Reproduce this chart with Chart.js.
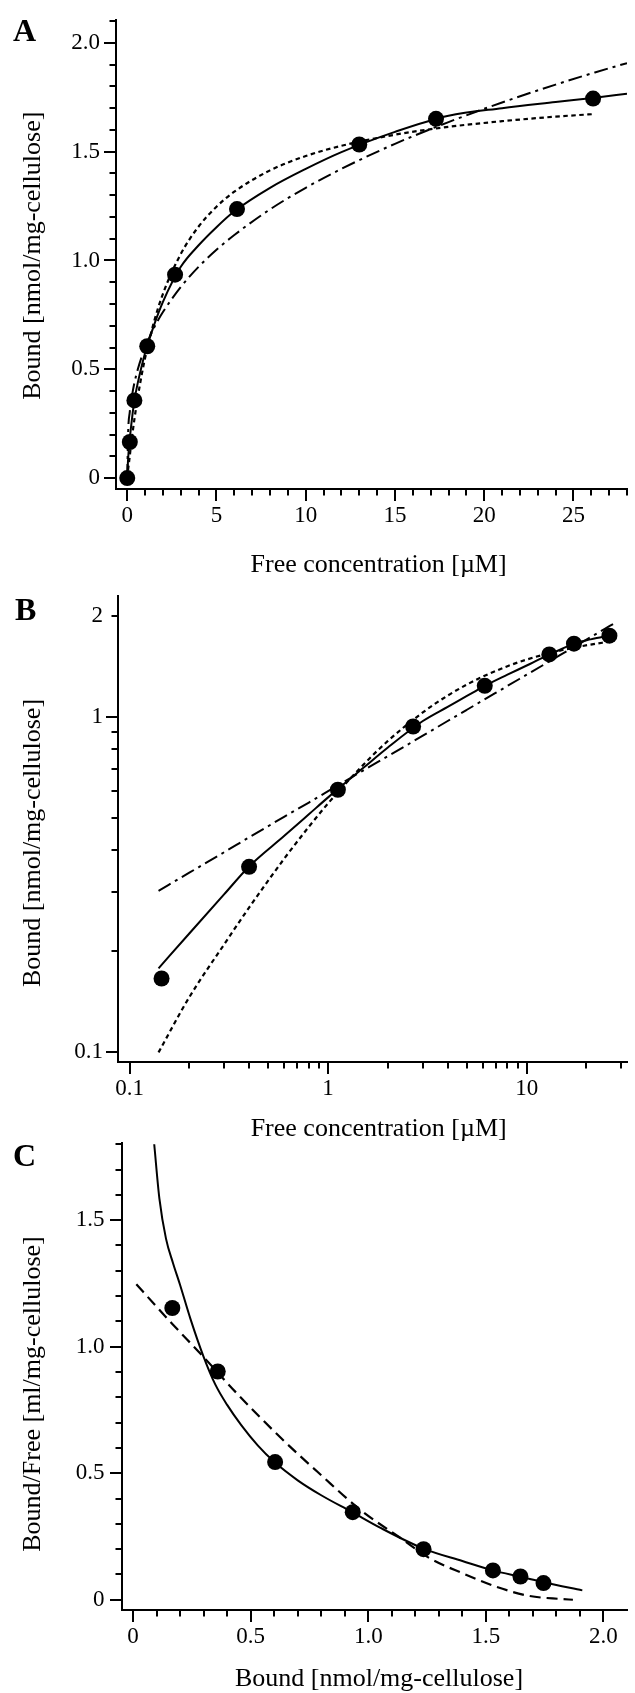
<!DOCTYPE html>
<html>
<head>
<meta charset="utf-8">
<script src="https://cdn.jsdelivr.net/npm/chart.js@4.4.0/dist/chart.umd.min.js"></script>
<style>
  html, body { margin: 0; padding: 0; background: #fff; }
  body { width: 635px; height: 1693px; position: relative; overflow: hidden; }
  canvas { position: absolute; left: 0; }
</style>
</head>
<body>
<canvas id="chartA" width="635" height="580" style="top:0px"></canvas>
<canvas id="chartB" width="635" height="570" style="top:575px"></canvas>
<canvas id="chartC" width="635" height="558" style="top:1135px"></canvas>
<script>
// Mesures : concentration libre [µM] et quantité liée [nmol/mg-cellulose]
const freeConc = [0, 0.145, 0.4, 1.12, 2.68, 6.15, 13.0, 17.3, 26.1];
const boundAmount = [0, 0.166, 0.357, 0.606, 0.935, 1.236, 1.533, 1.651, 1.744];

// Courbes d'ajustement (mêmes abscisses pour A et B)
const fitFree = [0, 0.05, 0.14, 0.2, 0.3, 0.4, 0.6, 0.8, 1, 1.5, 2, 3, 4, 5, 6, 8, 10, 12, 15, 18, 21, 24, 26.2, 28];
const fitTwoSite = [0, 0.09, 0.178, 0.226, 0.296, 0.358, 0.441, 0.512, 0.575, 0.703, 0.81, 0.971, 1.07, 1.153, 1.226, 1.334, 1.421, 1.498, 1.591, 1.665, 1.70, 1.728, 1.748, 1.766];
const fitLangmuir = [0, 0.04, 0.10, 0.146, 0.21, 0.27, 0.377, 0.47, 0.552, 0.718, 0.847, 1.03, 1.156, 1.247, 1.316, 1.414, 1.48, 1.527, 1.578, 1.614, 1.64, 1.661, 1.673, null];
const fitFreundlich = [0, 0.21, 0.303, 0.343, 0.395, 0.437, 0.503, 0.555, 0.6, 0.691, 0.763, 0.878, 0.971, 1.049, 1.117, 1.235, 1.334, 1.421, 1.536, 1.636, 1.726, 1.808, 1.864, 1.907];

// Scatchard (panel C)
const scatBound = [0.167, 0.36, 0.604, 0.934, 1.235, 1.53, 1.647, 1.745];
const scatRatio = [1.153, 0.902, 0.544, 0.346, 0.2, 0.116, 0.092, 0.066];
const scatSolidX = [0.09, 0.112, 0.14, 0.17, 0.2, 0.244, 0.3, 0.35, 0.4, 0.46, 0.53, 0.6, 0.7, 0.8, 0.93, 1.05, 1.24, 1.4, 1.53, 1.65, 1.75, 1.91];
const scatSolidY = [1.80, 1.585, 1.427, 1.33, 1.244, 1.11, 0.96, 0.85, 0.77, 0.69, 0.61, 0.545, 0.472, 0.413, 0.347, 0.285, 0.2, 0.153, 0.116, 0.09, 0.068, 0.037];
const scatDashX = [0.014, 0.098, 0.167, 0.291, 0.443, 0.629, 0.799, 0.968, 1.137, 1.261, 1.40, 1.54, 1.679, 1.818, 1.87];
const scatDashY = [1.247, 1.16, 1.09, 0.968, 0.814, 0.639, 0.493, 0.354, 0.244, 0.164, 0.105, 0.053, 0.016, 0.003, 0.0];

// Graduations
const aXTicks = [0, 5, 10, 15, 20, 25];
const aXLabels = ['0', '5', '10', '15', '20', '25'];
const aXMinor = [1, 2, 3, 4, 6, 7, 8, 9, 11, 12, 13, 14, 16, 17, 18, 19, 21, 22, 23, 24, 26, 27, 28];
const aYTicks = [0, 0.5, 1, 1.5, 2];
const aYLabels = ['0', '0.5', '1.0', '1.5', '2.0'];
const aYMinor = [0.1, 0.2, 0.3, 0.4, 0.6, 0.7, 0.8, 0.9, 1.1, 1.2, 1.3, 1.4, 1.6, 1.7, 1.8, 1.9, 2.1];

const bXTicks = [0.1, 1, 10];
const bXLabels = ['0.1', '1', '10'];
const bXMinor = [0.2, 0.3, 0.4, 0.5, 0.6, 0.7, 0.8, 0.9, 2, 3, 4, 5, 6, 7, 8, 9, 20, 30];
const bYTicks = [0.1, 1, 2];
const bYLabels = ['0.1', '1', '2'];
const bYMajor = [0.1, 1];
const bYMinor = [0.2, 0.3, 0.4, 0.5, 0.6, 0.7, 0.8, 0.9, 2];

const cXTicks = [0, 0.5, 1, 1.5, 2];
const cXLabels = ['0', '0.5', '1.0', '1.5', '2.0'];
const cXMinor = [0.1, 0.2, 0.3, 0.4, 0.6, 0.7, 0.8, 0.9, 1.1, 1.2, 1.3, 1.4, 1.6, 1.7, 1.8, 1.9];
const cYTicks = [0, 0.5, 1, 1.5];
const cYLabels = ['0', '0.5', '1.0', '1.5'];
const cYMinor = [0.1, 0.2, 0.3, 0.4, 0.6, 0.7, 0.8, 0.9, 1.1, 1.2, 1.3, 1.4, 1.6, 1.7, 1.8];

const SERIF = '"Liberation Serif", "Times New Roman", serif';

// transforme deux listes en points {x, y}, en sautant les trous (et x <= minX pour les axes log)
function pairs(xs, ys, minX = -Infinity) {
  return xs.map((x, i) => ({x: x, y: ys[i]})).filter(p => p.y !== null && p.x > minX);
}

// Petites et grandes graduations, titres d'axes et lettre du panneau
const axisDecor = {
  id: 'axisDecor',
  afterDraw(chart, args, opts) {
    const ctx = chart.ctx;
    const area = chart.chartArea;
    const xs = chart.scales.x;
    const ys = chart.scales.y;
    ctx.save();
    ctx.strokeStyle = '#000';
    ctx.lineWidth = 2;
    ctx.beginPath();
    opts.xMarks.forEach(([vals, len]) => {
      vals.forEach(v => {
        const px = Math.round(xs.getPixelForValue(v));
        ctx.moveTo(px, area.bottom);
        ctx.lineTo(px, area.bottom + len);
      });
    });
    opts.yMarks.forEach(([vals, len]) => {
      vals.forEach(v => {
        const py = Math.round(ys.getPixelForValue(v));
        ctx.moveTo(area.left, py);
        ctx.lineTo(area.left - len, py);
      });
    });
    ctx.stroke();

    ctx.fillStyle = '#000';
    ctx.textAlign = 'center';
    ctx.textBaseline = 'alphabetic';
    ctx.font = '26px ' + SERIF;
    ctx.fillText(opts.xTitle, opts.xTitleAt[0], opts.xTitleAt[1]);

    ctx.save();
    ctx.translate(opts.yTitleAt[0], opts.yTitleAt[1]);
    ctx.rotate(-Math.PI / 2);
    ctx.fillText(opts.yTitle, 0, 0);
    ctx.restore();

    ctx.textAlign = 'left';
    ctx.font = 'bold 32px ' + SERIF;
    ctx.fillText(opts.letter, opts.letterAt[0], opts.letterAt[1]);
    ctx.restore();
  }
};
Chart.register(axisDecor);

function makeScale(type, min, max, tickVals, labels, pad, size, isX) {
  return {
    type: type,
    min: min,
    max: max,
    afterBuildTicks: s => { s.ticks = tickVals.map(v => ({value: v})); },
    afterFit: s => {
      if (isX) s.height = size; else s.width = size;
      s.paddingTop = 0; s.paddingBottom = 0; s.paddingLeft = 0; s.paddingRight = 0;
    },
    ticks: {
      autoSkip: false,
      maxRotation: 0,
      padding: pad,
      color: '#000',
      font: {family: SERIF, size: 23},
      callback: (v, i) => labels[i]
    },
    grid: {drawOnChartArea: false, drawTicks: false, color: 'rgba(0,0,0,0)'},
    border: {display: true, color: '#000', width: 2},
    title: {display: false}
  };
}

function pointSet(data) {
  return {data: data, showLine: false, pointRadius: 8, pointHoverRadius: 8,
          pointBackgroundColor: '#000', pointBorderWidth: 0, borderColor: '#000'};
}

function lineSet(data, dash, width) {
  return {data: data, showLine: true, pointRadius: 0, pointHoverRadius: 0,
          borderColor: '#000', borderWidth: width, borderDash: dash,
          cubicInterpolationMode: 'monotone', fill: false};
}

function baseOptions(padTop, padRight, xScale, yScale, decor) {
  return {
    responsive: false,
    animation: false,
    devicePixelRatio: 1,
    events: [],
    layout: {padding: {top: padTop, right: padRight, bottom: 0, left: 0}},
    scales: {x: xScale, y: yScale},
    plugins: {legend: {display: false}, tooltip: {enabled: false}, axisDecor: decor}
  };
}

// Panneau A : isotherme linéaire
new Chart(document.getElementById('chartA'), {
  type: 'scatter',
  data: {
    datasets: [
      pointSet(pairs(freeConc, boundAmount)),
      lineSet(pairs(fitFree, fitTwoSite), [], 2),
      lineSet(pairs(fitFree, fitLangmuir), [4.5, 3.5], 2.2),
      lineSet(pairs(fitFree, fitFreundlich), [14, 5, 3, 5], 2)
    ]
  },
  options: baseOptions(20, 6,
    makeScale('linear', -0.63, 28, aXTicks, aXLabels, 13.5, 91, true),
    makeScale('linear', -0.05, 2.105, aYTicks, aYLabels, 16, 116, false),
    {
      xMarks: [[aXTicks, 12], [aXMinor, 6.5]],
      yMarks: [[aYTicks, 12], [aYMinor, 6.5]],
      xTitle: 'Free concentration [µM]', xTitleAt: [378.6, 572],
      yTitle: 'Bound [nmol/mg-cellulose]', yTitleAt: [39.5, 255.7],
      letter: 'A', letterAt: [13, 41]
    })
});

// Panneau B : log-log
new Chart(document.getElementById('chartB'), {
  type: 'scatter',
  data: {
    datasets: [
      pointSet(pairs(freeConc, boundAmount, 0)),
      lineSet(pairs(fitFree, fitTwoSite, 0.1), [], 2),
      lineSet(pairs(fitFree, fitLangmuir, 0.1), [4.5, 3.5], 2.2),
      lineSet(pairs(fitFree, fitFreundlich, 0.1), [14, 5, 3, 5], 2)
    ]
  },
  options: baseOptions(21, 6,
    makeScale('logarithmic', 0.0875, 32, bXTicks, bXLabels, 13.5, 83, true),
    makeScale('logarithmic', 0.0936, 2.289, bYTicks, bYLabels, 15, 118, false),
    {
      xMarks: [[bXTicks, 12], [bXMinor, 6.5]],
      yMarks: [[bYMajor, 12], [bYMinor, 6.5]],
      xTitle: 'Free concentration [µM]', xTitleAt: [378.7, 560.7],
      yTitle: 'Bound [nmol/mg-cellulose]', yTitleAt: [39.5, 268],
      letter: 'B', letterAt: [15, 45]
    })
});

// Panneau C : Scatchard
new Chart(document.getElementById('chartC'), {
  type: 'scatter',
  data: {
    datasets: [
      pointSet(pairs(scatBound, scatRatio)),
      lineSet(pairs(scatSolidX, scatSolidY), [], 2),
      lineSet(pairs(scatDashX, scatDashY), [11, 6], 2.2)
    ]
  },
  options: baseOptions(6, 0,
    makeScale('linear', -0.047, 2.1, cXTicks, cXLabels, 13.5, 83, true),
    makeScale('linear', -0.0405, 1.805, cYTicks, cYLabels, 17.5, 122, false),
    {
      xMarks: [[cXTicks, 12], [cXMinor, 6.5]],
      yMarks: [[cYTicks, 12], [cYMinor, 6.5]],
      xTitle: 'Bound [nmol/mg-cellulose]', xTitleAt: [379, 551],
      yTitle: 'Bound/Free [ml/mg-cellulose]', yTitleAt: [39.5, 259],
      letter: 'C', letterAt: [13, 31]
    })
});
</script>
</body>
</html>
